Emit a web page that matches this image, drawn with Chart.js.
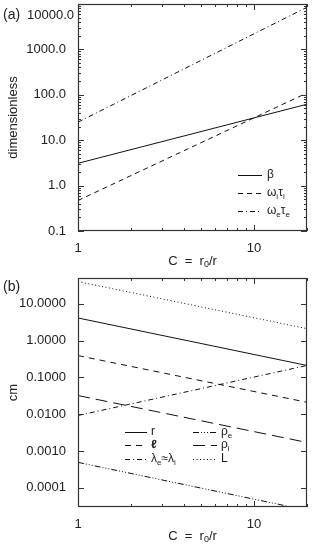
<!DOCTYPE html>
<html lang="en">
<head>
<meta charset="UTF-8">
<script src="https://cdn.jsdelivr.net/npm/chart.js"></script>
<style>
  body { margin: 0; background: #fff; }
  #wrapA { position: absolute; left: 0; top: 0; width: 319px; height: 270px; }
  #wrapB { position: absolute; left: 0; top: 270px; width: 319px; height: 282px; }
</style>
</head>
<body>
<div id="wrapA"><canvas id="chartA"></canvas></div>
<div id="wrapB"><canvas id="chartB"></canvas></div>
<script>
// panel (a) - dimensionless numbers vs C
var cA = [1, 20];
var beta = [3.1, 62];
var wiTi = [0.47, 110];
var weTe = [25, 8500];
var yTickValsA = [0.1, 1, 10, 100, 1000, 10000];
var yTickLabelsA = ['0.1', '1.0', '10.0', '100.0', '1000.0', '10000.0'];

// panel (b) - lengths in cm vs C
var cB = [1, 20];
var rCm = [4.1, 0.21];
var ellCm = [0.39, 0.021];
var lambdaCm = [0.0092, 0.21];
var rhoECm = [0.00049, 0.0000245];
var rhoICm = [0.032, 0.0017];
var LCm = [40, 2.1];
var yTickValsB = [0.0001, 0.001, 0.01, 0.1, 1, 10];
var yTickLabelsB = ['0.0001', '0.0010', '0.0100', '0.1000', '1.0000', '10.0000'];

var xTickVals = [1, 10];
var xTickLabels = ['1', '10'];

var FONT = "'Liberation Sans', Arial, 'DejaVu Sans', sans-serif";
var INK = '#222';

function isPow10(v) {
    var l = Math.log10(v);
    return Math.abs(l - Math.round(l)) < 1e-6;
}
function logTicks(min, max, withMinor) {
    var out = [];
    for (var e = Math.floor(Math.log10(min)); e <= Math.ceil(Math.log10(max)); e++) {
        for (var m = 1; m < 10; m++) {
            if (!withMinor && m > 1) continue;
            var v = m * Math.pow(10, e);
            if (v >= min * 0.999 && v <= max * 1.001) out.push(v);
        }
    }
    return out;
}
function labelFor(vals, labels, skip) {
    return function (value) {
        for (var i = 0; i < vals.length; i++) {
            if (Math.abs(vals[i] - value) / vals[i] < 1e-6) {
                return (skip && skip.indexOf(labels[i]) >= 0) ? '' : labels[i];
            }
        }
        return '';
    };
}
function line(label, xs, ys, dash, segs) {
    return {
        label: label,
        data: xs.map(function (x, i) { return { x: x, y: ys[i] }; }),
        borderColor: '#111',
        borderWidth: 1,
        borderDash: dash,
        pointRadius: 0,
        fill: false,
        tension: 0,
        legendSegs: segs
    };
}

// rich text with simple subscripts: [text, isSub, style]
function richWidth(ctx, segs, size) {
    var w = 0;
    segs.forEach(function (s) {
        ctx.font = (s[2] || '') + ' ' + (s[1] ? Math.round(size * 0.7) : size) + 'px ' + FONT;
        w += ctx.measureText(s[0]).width;
    });
    return w;
}
function drawRich(ctx, segs, x, y, size, align) {
    var w = richWidth(ctx, segs, size);
    var cx = align === 'center' ? x - w / 2 : (align === 'right' ? x - w : x);
    ctx.textAlign = 'left';
    ctx.textBaseline = 'middle';
    segs.forEach(function (s) {
        ctx.font = (s[2] || '') + ' ' + (s[1] ? Math.round(size * 0.7) : size) + 'px ' + FONT;
        ctx.fillText(s[0], cx, y + (s[1] ? size * 0.3 : 0));
        cx += ctx.measureText(s[0]).width;
    });
}

var frame = {
    id: 'frame',
    afterDraw: function (chart) {
        var o = chart.options.plugins.frame;
        var ctx = chart.ctx, a = chart.chartArea;
        var xs = chart.scales.x, ys = chart.scales.y;
        ctx.save();
        ctx.strokeStyle = '#333';
        ctx.lineWidth = 1.2;
        ctx.setLineDash([]);
        ctx.strokeRect(a.left + 0.5, a.top + 0.5, a.right - a.left - 1, a.bottom - a.top - 1);

        ctx.lineWidth = 1;
        ctx.beginPath();
        xs.ticks.forEach(function (t) {
            var px = Math.round(xs.getPixelForValue(t.value)) + 0.5;
            var len = isPow10(t.value) ? 6 : 3;
            ctx.moveTo(px, a.bottom); ctx.lineTo(px, a.bottom - len);
            ctx.moveTo(px, a.top); ctx.lineTo(px, a.top + len);
        });
        ys.ticks.forEach(function (t) {
            var py = Math.round(ys.getPixelForValue(t.value)) + 0.5;
            var len = isPow10(t.value) ? 6 : 3;
            ctx.moveTo(a.left, py); ctx.lineTo(a.left + len, py);
            ctx.moveTo(a.right, py); ctx.lineTo(a.right - len, py);
        });
        ctx.stroke();

        ctx.fillStyle = INK;
        // panel letter
        ctx.font = '14px ' + FONT;
        ctx.textAlign = 'left';
        ctx.textBaseline = 'middle';
        ctx.fillText(o.panel, 3, o.panelY);
        if (o.topLabel) {
            ctx.font = '13px ' + FONT;
            ctx.textAlign = 'right';
            ctx.fillText(o.topLabel, a.left - 4, o.panelY);
        }
        // y title
        ctx.save();
        ctx.translate(13, (a.top + a.bottom) / 2);
        ctx.rotate(-Math.PI / 2);
        ctx.font = '13px ' + FONT;
        ctx.textAlign = 'center';
        ctx.fillText(o.yTitle, 0, 0);
        ctx.restore();
        // x title
        drawRich(ctx, [['C  =  r'], ['0', true], ['/r']], (a.left + a.right) / 2, o.xTitleY, 13, 'center');

        // legend
        o.legend.forEach(function (e) {
            var d = chart.data.datasets[e.ds];
            ctx.strokeStyle = '#111';
            ctx.lineWidth = 1;
            ctx.setLineDash(d.borderDash || []);
            ctx.beginPath();
            ctx.moveTo(e.x0, e.y + 0.5);
            ctx.lineTo(e.x1, e.y + 0.5);
            ctx.stroke();
            ctx.setLineDash([]);
            drawRich(ctx, d.legendSegs, e.tx, e.y, 12, 'left');
        });
        ctx.restore();
    }
};

function makeChart(id, datasets, yMin, yMax, yVals, yLabels, yMinor, xH, padTop, plugOpts) {
    return new Chart(document.getElementById(id), {
        type: 'line',
        data: { datasets: datasets },
        plugins: [frame],
        options: {
            responsive: true,
            maintainAspectRatio: false,
            animation: false,
            layout: { padding: { top: padTop, right: 12, left: 0, bottom: 0 } },
            plugins: { legend: { display: false }, tooltip: { enabled: false }, frame: plugOpts },
            scales: {
                x: {
                    type: 'logarithmic',
                    min: 1, max: 20,
                    grid: { display: false },
                    border: { display: false },
                    afterBuildTicks: function (s) {
                        s.ticks = logTicks(1, 20, true).map(function (v) { return { value: v }; });
                    },
                    afterFit: function (s) { s.height = xH; s.paddingLeft = 0; s.paddingRight = 0; },
                    ticks: {
                        autoSkip: false, maxRotation: 0, padding: 2,
                        color: INK, font: { family: FONT, size: 13 },
                        callback: labelFor(xTickVals, xTickLabels)
                    }
                },
                y: {
                    type: 'logarithmic',
                    min: yMin, max: yMax,
                    grid: { display: false },
                    border: { display: false },
                    afterBuildTicks: function (s) {
                        s.ticks = logTicks(yMin, yMax, yMinor).map(function (v) { return { value: v }; });
                    },
                    afterFit: function (s) { s.width = 78; s.paddingTop = 0; s.paddingBottom = 0; },
                    ticks: {
                        autoSkip: false, padding: 4,
                        color: INK, font: { family: FONT, size: 13 },
                        callback: labelFor(yVals, yLabels, plugOpts.topLabel ? [plugOpts.topLabel] : null)
                    }
                }
            }
        }
    });
}

makeChart('chartA', [
    line('beta', cA, beta, [], [['β']]),
    line('wiTi', cA, wiTi, [5, 4], [['ω'], ['i', true], ['τ'], ['i', true]]),
    line('weTe', cA, weTe, [5, 3, 1, 3], [['ω'], ['e', true], ['τ'], ['e', true]])
], 0.1, 10000, yTickValsA, yTickLabelsA, true, 39, 4, {
    panel: '(a)', panelY: 15, topLabel: '10000.0',
    yTitle: 'dimensionless', xTitleY: 261,
    legend: [
        { ds: 0, x0: 238, x1: 262, tx: 267, y: 175 },
        { ds: 1, x0: 238, x1: 262, tx: 267, y: 193 },
        { ds: 2, x0: 238, x1: 262, tx: 267, y: 211 }
    ]
});

makeChart('chartB', [
    line('r', cB, rCm, [], [['r']]),
    line('ell', cB, ellCm, [6, 5], [['ℓ', false, 'bold']]),
    line('lambda', cB, lambdaCm, [5, 3, 1, 3], [['λ'], ['e', true], ['≈λ'], ['i', true]]),
    line('rhoE', cB, rhoECm, [6, 2, 1, 2, 1, 2, 1, 2], [['ρ'], ['e', true]]),
    line('rhoI', cB, rhoICm, [12, 6], [['ρ'], ['i', true]]),
    line('L', cB, LCm, [1, 2.5], [['L']])
], 0.00003, 50, yTickValsB, yTickLabelsB, false, 45, 8, {
    panel: '(b)', panelY: 17,
    yTitle: 'cm', xTitleY: 266,
    legend: [
        { ds: 0, x0: 125, x1: 147, tx: 151, y: 162 },
        { ds: 1, x0: 125, x1: 147, tx: 151, y: 175 },
        { ds: 2, x0: 125, x1: 147, tx: 151, y: 189 },
        { ds: 3, x0: 193, x1: 217, tx: 221, y: 162 },
        { ds: 4, x0: 193, x1: 217, tx: 221, y: 175 },
        { ds: 5, x0: 193, x1: 217, tx: 221, y: 189 }
    ]
});
</script>
</body>
</html>
